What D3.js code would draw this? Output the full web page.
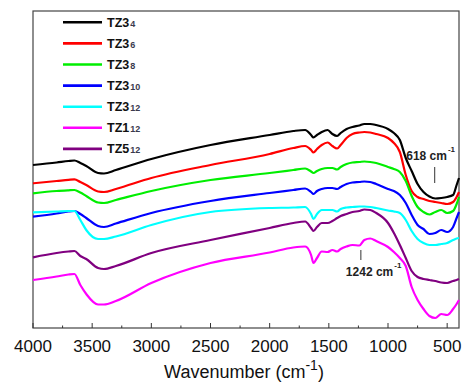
<!DOCTYPE html>
<html><head><meta charset="utf-8">
<script src="https://cdn.jsdelivr.net/npm/d3@7"></script>
<style>body{margin:0;background:#fff}svg{display:block}text{font-family:"Liberation Sans",Arial,sans-serif}</style>
</head><body>
<svg id="c" width="463" height="383"></svg>
<script>
// Wavenumber grid (cm^-1)
const wavenumbers = [4000,3800,3700,3650,3600,3550,3450,3400,3300,3000,2500,2000,1800,1700,1650,1630,1600,1560,1510,1470,1430,1400,1350,1300,1242,1200,1150,1100,1000,950,900,850,800,750,700,650,600,550,500,450,420,400];
// Transmittance (arbitrary units, offset spectra)
const TZ3_4  = [163,165.5,167,167.5,165,162,155,154.5,158,169,183,193,197,198,193,190.5,193,196,198,194,192,195,199,201,202.5,204,204,203,199,195,188,170,157,144,136,131.5,129.5,130,131,133,143,150];
const TZ3_6  = [144.7,147,148.2,148.7,146,143,136.5,136,139,150,163,174,180,182,178,175.5,179,183,185.5,182,179.5,183,190,194,195.5,196,195.5,194,190,185,176,153,137,131,129,127,126,125,124,126,131,136];
const TZ3_8  = [134.7,137,137.7,138,135.5,132,125.5,125,128,137,148,155,158,159.5,156.5,155,157,159,160,160,158.5,161,164,165.5,166,166.5,166,165,161,159,156,147,132,121,116,113.5,116,118,115,117,124,131];
const TZ3_10 = [111.3,114.5,116.5,117,114,110,102,101,104.5,115,127,135,138,139.5,136,134,137,139,140,140,139,141,144,145.5,146,146.5,146,144,139,137,133,125,113,103,99,94,95,98,96,101,110,116];
const TZ3_12 = [115.7,116.5,117,117,108,98,89,89,91.5,103,116,120,120.5,121,114,109,114,118,118,118,116.5,119,120.5,121,121.5,121.5,121,120,117.5,116.5,115,108,97,89,85,83,83,84,85,88,89.5,90];
const TZ1_12 = [48,51.5,53.5,54,43,34,23.5,23.5,27,45,65,75.5,80.5,81.5,73,65,70,76.5,76,78,76.5,79,81.5,83,82.5,88,89.5,87,81,76,70,62,41,28,19,12,10,14,13,19,24,28];
const TZ5_12 = [70.7,75,76.5,77,72,69,60,59,62,75,88,100,105,106.5,100,97,101,105,105,107,110,112,114,116,117,118.5,118,115,105,95,83,70,57,51,49,48,47,45.5,45,47,48,49];
const series = [
  {name:"TZ3", sub:"4",  color:"#000000", values:TZ3_4},
  {name:"TZ3", sub:"6",  color:"#ff0000", values:TZ3_6},
  {name:"TZ3", sub:"8",  color:"#00ee00", values:TZ3_8},
  {name:"TZ3", sub:"10", color:"#0000ff", values:TZ3_10},
  {name:"TZ3", sub:"12", color:"#00ffff", values:TZ3_12},
  {name:"TZ1", sub:"12", color:"#ff00ff", values:TZ1_12},
  {name:"TZ5", sub:"12", color:"#800080", values:TZ5_12}
];
const xTicks = [4000,3500,3000,2500,2000,1500,1000,500];
const xMinorTicks = [3750,3250,2750,2250,1750,1250,750];
const annotations = [{wn:618, label:"618 cm", y0:145, y1:161, tx:-27, ty:168.5},
                     {wn:1242, label:"1242 cm", y0:68, y1:78, tx:-13.5, ty:52}];

const svg = d3.select("#c");
const L=33, R=459, T=11, B=328;
const x = d3.scaleLinear().domain([4000,400]).range([L,R]);
const y = d3.scaleLinear().domain([0,317]).range([B,T]);

// frame
svg.append("rect").attr("x",L).attr("y",T).attr("width",R-L).attr("height",B-T)
  .attr("fill","none").attr("stroke","#444").attr("stroke-width",1.2);

// x ticks (inward)
const g = svg.append("g");
xTicks.forEach(t=>{
  g.append("line").attr("x1",x(t)).attr("x2",x(t)).attr("y1",B).attr("y2",B-5).attr("stroke","#333").attr("stroke-width",1);
  g.append("text").attr("x",x(t)).attr("y",351.5).attr("text-anchor","middle").attr("font-size",17).attr("fill","#111").text(t);
});
xMinorTicks.forEach(t=>{
  g.append("line").attr("x1",x(t)).attr("x2",x(t)).attr("y1",B).attr("y2",B-2.5).attr("stroke","#333").attr("stroke-width",1);
});
// axis title
const title = svg.append("text").attr("x",244).attr("y",378).attr("text-anchor","middle").attr("font-size",18).attr("fill","#111");
title.append("tspan").text("Wavenumber (cm");
title.append("tspan").attr("font-size",14).attr("dy",-8).text("-1");
title.append("tspan").attr("dy",8).text(")");

// annotations (under lines)
annotations.forEach(a=>{
  svg.append("line").attr("x1",x(a.wn)+1.5).attr("x2",x(a.wn)+1.5).attr("y1",y(a.y1)).attr("y2",y(a.y0)).attr("stroke","#333").attr("stroke-width",1);
  const t = svg.append("text").attr("x",x(a.wn)+a.tx).attr("y",y(a.ty)).attr("font-size",12).attr("font-weight","bold").attr("fill","#222");
  t.append("tspan").text(a.label);
  t.append("tspan").attr("font-size",8).attr("dy",-8).attr("dx",1).text("-1");
});

// lines
const line = d3.line().x((d,i)=>x(wavenumbers[i])).y(d=>y(d)).curve(d3.curveMonotoneX);
series.forEach(s=>{
  svg.append("path").datum(s.values).attr("d",line).attr("fill","none")
    .attr("stroke",s.color).attr("stroke-width",2.2).attr("stroke-linejoin","round");
});

// legend
series.forEach((s,i)=>{
  const cy = 22.3 + i*21.1;
  svg.append("line").attr("x1",63).attr("x2",102).attr("y1",cy).attr("y2",cy).attr("stroke",s.color).attr("stroke-width",2.6);
  const t = svg.append("text").attr("x",107).attr("y",cy+4.5).attr("font-size",12.5).attr("font-weight","bold").attr("fill","#111");
  t.append("tspan").text(s.name);
  t.append("tspan").attr("font-size",9).attr("fill","#3a3a4e").attr("dx",1).text(s.sub);
});
</script>
</body></html>
